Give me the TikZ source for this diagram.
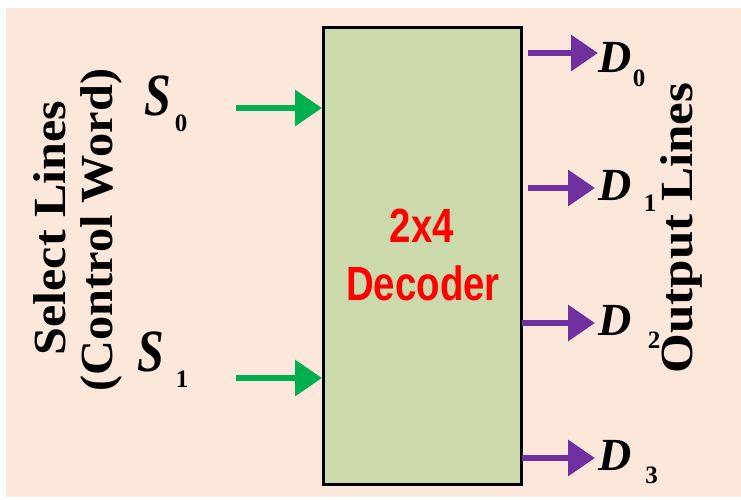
\documentclass[tikz,border=0pt]{standalone}
\usepackage{fontspec}
\setmainfont{Liberation Serif}
\newfontfamily\arialfont{Liberation Sans}
\usetikzlibrary{arrows.meta}
\definecolor{peach}{HTML}{FBE8DB}
\definecolor{boxgreen}{HTML}{CCDAAB}
\definecolor{sigGreen}{HTML}{00B050}
\definecolor{sigPurple}{HTML}{7030A0}
\definecolor{titleRed}{HTML}{FF0000}
\begin{document}
\begin{tikzpicture}[x=1pt,y=-1pt,
  decbox/.style={draw=black, line width=3pt, fill=boxgreen, minimum width=198pt, minimum height=457pt, inner sep=0pt},
  insig/.style={draw=sigGreen, line width=6.5pt, -{Triangle[length=27pt,width=35pt,fill=sigGreen]}},
  outsig/.style={draw=sigPurple, line width=6.5pt, -{Triangle[length=27pt,width=35pt,fill=sigPurple]}},
  letter/.style={inner sep=0pt, font=\fontsize{46}{50}\selectfont\bfseries\itshape},
  sletter/.style={inner sep=0pt, font=\fontsize{60}{64}\selectfont\bfseries\itshape},
  subsc/.style={inner sep=0pt, font=\fontsize{25}{28}\selectfont\bfseries},
  sidelbl/.style={inner sep=0pt, rotate=90, font=\fontsize{46}{50}\selectfont\bfseries},
  declbl/.style={inner sep=0pt, text=titleRed, font=\fontsize{48}{52}\selectfont\arialfont\bfseries}
]
\useasboundingbox (0,0) rectangle (741,499);
\fill[peach] (6,8) rectangle (741,497);

\node[decbox] (dec) at (422.5,256) {};
\node[declbl] (t1) at (422,226) {\scalebox{0.8}[1]{2x4}};
\node[declbl] (t2) at (423,283) {\scalebox{0.8}[1]{Decoder}};

% side labels
\node[sidelbl] (sel) at (50,228) {\scalebox{1.09}[1]{Select Lines}};
\node[sidelbl] (ctl) at (101,230) {\scalebox{1.05}[1]{(Control Word)}};
\node[sidelbl] (out) at (681,228) {\scalebox{1.11}[1]{Output Lines}};

% inputs
\node[sletter] (S0) at (158,95.5) {\scalebox{0.8}[1]{S}};
\node[subsc] (S0i) at (181,123.5) {0};
\node[sletter] (S1) at (151,351.5) {\scalebox{0.8}[1]{S}};
\node[subsc] (S1i) at (182,379) {1};
\coordinate (a0) at (236,108);
\coordinate (a1) at (236,378);
\draw[insig] (a0) -- (a0 -| dec.west);
\draw[insig] (a1) -- (a1 -| dec.west);

% outputs
\node[letter, anchor=west] (D0) at (598,57.5) {D};
\node[subsc] (D0i) at (639,78.5) {0};
\node[letter, anchor=west] (D1) at (598,185) {D};
\node[subsc] (D1i) at (650,203) {1};
\node[letter, anchor=west] (D2) at (598,320) {D};
\node[subsc] (D2i) at (654,340.5) {2};
\node[letter, anchor=west] (D3) at (598,455) {D};
\node[subsc] (D3i) at (651.5,475) {3};

\coordinate (b0) at (528,53);
\coordinate (b1) at (528,188);
\coordinate (b2) at (522,323);
\coordinate (b3) at (522,458);
\draw[outsig] (b0) -- (b0 -| D0.west);
\draw[outsig] (b1) -- ([xshift=-3pt]b1 -| D1.west);
\draw[outsig] (b2) -- ([xshift=-3pt]b2 -| D2.west);
\draw[outsig] (b3) -- ([xshift=-3pt]b3 -| D3.west);
\end{tikzpicture}
\end{document}
